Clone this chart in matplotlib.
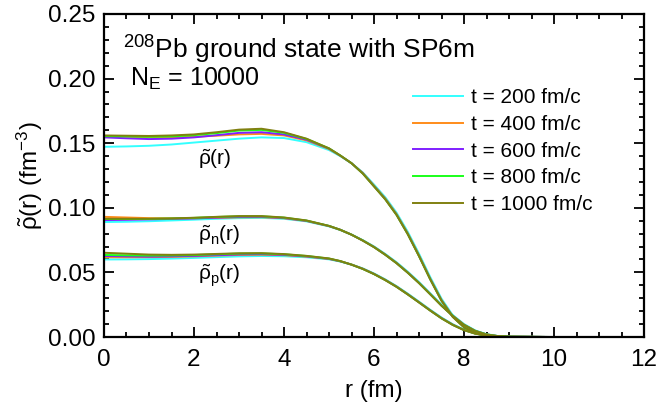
import numpy as np
import matplotlib
matplotlib.use("Agg")
import matplotlib.pyplot as plt
from matplotlib.ticker import MultipleLocator, FormatStrFormatter

plt.rcParams['font.family'] = ['Liberation Sans', 'DejaVu Sans']
plt.rcParams['mathtext.fontset'] = 'custom'
plt.rcParams['mathtext.rm'] = 'Liberation Sans'
plt.rcParams['mathtext.it'] = 'Liberation Sans:italic'

# radial grid (fm)
r = [0, 0.5, 1, 1.5, 2, 2.5, 3, 3.5, 4, 4.5, 5, 5.25, 5.5, 5.75, 6, 6.25, 6.5,
     6.75, 7, 7.25, 7.5, 7.75, 8, 8.25, 8.5, 8.75, 9, 10, 11, 12]

times = [200, 400, 600, 800, 1000]
colors = ['#33ffff', '#ff8c1a', '#7f1fff', '#1aff1a', '#808010']

# total density rho(r) for each time
rho_tot = {
    200:  [0.1472, 0.1475, 0.1480, 0.1490, 0.1505, 0.1520, 0.1535, 0.1545, 0.1540, 0.1508, 0.1447, 0.1400, 0.1345, 0.1274, 0.1180, 0.1082, 0.0963, 0.0815, 0.0645, 0.0464, 0.0297, 0.0168, 0.0083, 0.0035, 0.0014, 0.0005, 0.0001, 0, 0, 0],
    400:  [0.1555, 0.1550, 0.1545, 0.1545, 0.1550, 0.1558, 0.1568, 0.1572, 0.1560, 0.1522, 0.1455, 0.1403, 0.1345, 0.1270, 0.1172, 0.1073, 0.0952, 0.0803, 0.0633, 0.0452, 0.0287, 0.0160, 0.0078, 0.0032, 0.0012, 0.0004, 0.0001, 0, 0, 0],
    600:  [0.1545, 0.1538, 0.1532, 0.1535, 0.1545, 0.1562, 0.1580, 0.1585, 0.1568, 0.1527, 0.1458, 0.1404, 0.1345, 0.1268, 0.1169, 0.1069, 0.0948, 0.0799, 0.0629, 0.0449, 0.0284, 0.0158, 0.0077, 0.0031, 0.0012, 0.0004, 0.0001, 0, 0, 0],
    800:  [0.1555, 0.1553, 0.1550, 0.1553, 0.1562, 0.1578, 0.1598, 0.1603, 0.1580, 0.1533, 0.1460, 0.1405, 0.1345, 0.1266, 0.1167, 0.1067, 0.0946, 0.0797, 0.0627, 0.0447, 0.0282, 0.0157, 0.0076, 0.0031, 0.0011, 0.0004, 0.0001, 0, 0, 0],
    1000: [0.1560, 0.1558, 0.1556, 0.1560, 0.1568, 0.1585, 0.1605, 0.1612, 0.1585, 0.1535, 0.1460, 0.1405, 0.1345, 0.1265, 0.1165, 0.1065, 0.0945, 0.0795, 0.0625, 0.0445, 0.0280, 0.0155, 0.0075, 0.0030, 0.0011, 0.0004, 0.0001, 0, 0, 0],
}

# neutron density
rho_n = {
    200:  [0.0890, 0.0892, 0.0896, 0.0902, 0.0908, 0.0915, 0.0920, 0.0922, 0.0915, 0.0895, 0.0856, 0.0828, 0.0793, 0.0750, 0.0701, 0.0643, 0.0579, 0.0506, 0.0426, 0.0339, 0.0251, 0.0170, 0.0100, 0.0051, 0.0022, 0.0008, 0.0002, 0, 0, 0],
    400:  [0.0930, 0.0925, 0.0920, 0.0918, 0.0919, 0.0922, 0.0926, 0.0927, 0.0919, 0.0898, 0.0858, 0.0829, 0.0792, 0.0748, 0.0698, 0.0639, 0.0574, 0.0500, 0.0420, 0.0333, 0.0245, 0.0165, 0.0096, 0.0048, 0.0020, 0.0007, 0.0002, 0, 0, 0],
    600:  [0.0905, 0.0907, 0.0910, 0.0914, 0.0918, 0.0924, 0.0929, 0.0930, 0.0921, 0.0899, 0.0859, 0.0830, 0.0792, 0.0747, 0.0697, 0.0638, 0.0573, 0.0499, 0.0419, 0.0332, 0.0244, 0.0164, 0.0095, 0.0047, 0.0020, 0.0007, 0.0002, 0, 0, 0],
    800:  [0.0913, 0.0913, 0.0914, 0.0917, 0.0922, 0.0929, 0.0934, 0.0934, 0.0924, 0.0901, 0.0860, 0.0830, 0.0792, 0.0747, 0.0696, 0.0637, 0.0572, 0.0498, 0.0418, 0.0331, 0.0243, 0.0163, 0.0094, 0.0047, 0.0020, 0.0007, 0.0002, 0, 0, 0],
    1000: [0.0915, 0.0915, 0.0915, 0.0918, 0.0923, 0.0930, 0.0936, 0.0936, 0.0925, 0.0902, 0.0860, 0.0830, 0.0792, 0.0746, 0.0695, 0.0636, 0.0571, 0.0497, 0.0417, 0.0330, 0.0242, 0.0162, 0.0093, 0.0046, 0.0019, 0.0007, 0.0002, 0, 0, 0],
}

# proton density
rho_p = {
    200:  [0.0600, 0.0601, 0.0603, 0.0607, 0.0612, 0.0618, 0.0624, 0.0627, 0.0625, 0.0617, 0.0601, 0.0584, 0.0561, 0.0531, 0.0492, 0.0446, 0.0394, 0.0336, 0.0274, 0.0211, 0.0151, 0.0099, 0.0057, 0.0029, 0.0012, 0.0004, 0.0001, 0, 0, 0],
    400:  [0.0617, 0.0617, 0.0618, 0.0620, 0.0624, 0.0630, 0.0635, 0.0637, 0.0633, 0.0622, 0.0604, 0.0586, 0.0561, 0.0529, 0.0489, 0.0443, 0.0391, 0.0332, 0.0270, 0.0207, 0.0147, 0.0096, 0.0055, 0.0027, 0.0011, 0.0004, 0.0001, 0, 0, 0],
    600:  [0.0627, 0.0624, 0.0622, 0.0624, 0.0628, 0.0633, 0.0639, 0.0641, 0.0636, 0.0624, 0.0605, 0.0586, 0.0560, 0.0528, 0.0488, 0.0442, 0.0390, 0.0331, 0.0269, 0.0206, 0.0146, 0.0095, 0.0054, 0.0027, 0.0011, 0.0004, 0.0001, 0, 0, 0],
    800:  [0.0635, 0.0632, 0.0630, 0.0631, 0.0634, 0.0640, 0.0646, 0.0647, 0.0640, 0.0627, 0.0607, 0.0587, 0.0560, 0.0527, 0.0487, 0.0441, 0.0389, 0.0330, 0.0268, 0.0205, 0.0145, 0.0094, 0.0054, 0.0026, 0.0011, 0.0004, 0.0001, 0, 0, 0],
    1000: [0.0652, 0.0645, 0.0638, 0.0636, 0.0638, 0.0643, 0.0648, 0.0649, 0.0642, 0.0628, 0.0608, 0.0588, 0.0560, 0.0527, 0.0487, 0.0440, 0.0388, 0.0329, 0.0267, 0.0204, 0.0144, 0.0093, 0.0053, 0.0026, 0.0010, 0.0003, 0.0001, 0, 0, 0],
}

fig = plt.figure(figsize=(6.6, 4.08), dpi=100)
ax = fig.add_axes([104/660, 1 - 337/408, 540/660, 323/408])

for t, c in zip(times, colors):
    ax.plot(r, rho_tot[t], color=c, lw=1.4, label=f"t = {t} fm/c")
    ax.plot(r, rho_n[t], color=c, lw=1.4)
    ax.plot(r, rho_p[t], color=c, lw=1.4)

ax.set_xlim(0, 12)
ax.set_ylim(0, 0.25)
ax.xaxis.set_major_locator(MultipleLocator(2))
ax.xaxis.set_minor_locator(MultipleLocator(0.5))
ax.yaxis.set_major_locator(MultipleLocator(0.05))
ax.yaxis.set_minor_locator(MultipleLocator(0.01))
ax.yaxis.set_major_formatter(FormatStrFormatter('%.2f'))
ax.tick_params(which='both', direction='in', top=True, right=True, width=1.3,
               labelsize=17.5)
ax.tick_params(which='major', length=7)
ax.tick_params(which='minor', length=3.5)
ax.tick_params(axis='x', which='major', pad=9)
ax.tick_params(axis='y', which='major', pad=6)
for s in ax.spines.values():
    s.set_linewidth(1.6)

ax.set_xlabel("r (fm)", fontsize=17.5, labelpad=6)
ax.set_ylabel(r"$\mathrm{\tilde{\rho}}$(r) (fm$^{-3}$)", fontsize=17.5, labelpad=2)

ax.text(0.035, 0.888, r"$^{208}$Pb ground state with SP6m", transform=ax.transAxes,
        fontsize=19, va='center')
ax.text(0.048, 0.80, r"N$_\mathrm{E}$ = 10000", transform=ax.transAxes,
        fontsize=18, va='center')

ax.text(2.45, 0.138, r"$\mathrm{\tilde{\rho}}$(r)", fontsize=15, ha='center', va='center')
ax.text(2.55, 0.079, r"$\mathrm{\tilde{\rho}_n}$(r)", fontsize=15, ha='center', va='center')
ax.text(2.55, 0.047, r"$\mathrm{\tilde{\rho}_p}$(r)", fontsize=15, ha='center', va='center')

ax.legend(loc='upper left', bbox_to_anchor=(0.573, 0.77), frameon=False,
          fontsize=15, handlelength=2.4, handletextpad=0.35, labelspacing=0.37,
          borderpad=0, borderaxespad=0)

fig.savefig("out.png", dpi=100)
